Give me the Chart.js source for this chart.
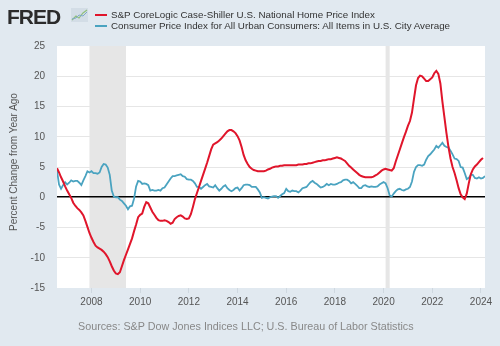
<!DOCTYPE html>
<html>
<head>
<meta charset="utf-8">
<script src="https://cdn.jsdelivr.net/npm/chart.js@4.4.1/dist/chart.umd.min.js"></script>
<style>
  html, body { margin: 0; padding: 0; background: #e1e9f0; }
  #wrap { position: relative; width: 500px; height: 346px; overflow: hidden; font-family: "Liberation Sans", Arial, sans-serif; }
  #chart { position: absolute; left: 0; top: 0; }
  .logo { position: absolute; left: 7px; top: 6px; font-size: 21px; line-height: 21px; font-weight: bold; letter-spacing: -1px; color: #2b2b2b; }
  .icon { position: absolute; left: 71px; top: 8px; }
  .swatch { position: absolute; left: 95px; width: 12px; height: 2px; }
  .leg { position: absolute; left: 111px; font-size: 9.8px; line-height: 12px; color: #333; white-space: nowrap; }
  .ytitle { position: absolute; left: -86px; top: 156px; width: 200px; text-align: center; font-size: 10px; line-height: 12px; color: #555; transform: rotate(-90deg); }
  .source { position: absolute; left: 78px; top: 320px; font-size: 10.75px; line-height: 13px; color: #888; white-space: nowrap; }
</style>
</head>
<body>
<div id="wrap">
  <canvas id="chart" width="500" height="346"></canvas>
  <div class="logo">FRED</div>
  <svg class="icon" width="17" height="14" viewBox="0 0 17 14">
    <rect x="0" y="0" width="17" height="14" fill="#d3dde6"/>
    <polyline points="1,12 5,8 8,10 12,5 16,2" fill="none" stroke="#8fbf7a" stroke-width="1.2"/>
    <polyline points="1,11 5,10 8,7 12,8 16,4" fill="none" stroke="#7fa9c9" stroke-width="1"/>
  </svg>
  <div class="swatch" style="top:14px;background:#e0152b"></div>
  <div class="leg" style="top:9px">S&amp;P CoreLogic Case-Shiller U.S. National Home Price Index</div>
  <div class="swatch" style="top:25px;background:#4aa3c0"></div>
  <div class="leg" style="top:20px">Consumer Price Index for All Urban Consumers: All Items in U.S. City Average</div>
  <div class="ytitle">Percent Change from Year Ago</div>
  <div class="source">Sources: S&amp;P Dow Jones Indices LLC; U.S. Bureau of Labor Statistics</div>
</div>
<script>
// monthly series, first value = Aug 2006
const startYear = 2006;
const startMonth = 8;

// S&P CoreLogic Case-Shiller national, % change from year ago (Aug 2006 - Feb 2024)
const homePrice = [
  4.8, 4.1, 3.3, 2.6, 1.8,
  1.1, 0.5, -0.1, -0.9, -1.4, -1.8, -2.1, -2.5, -3.0, -3.9, -4.9, -5.9,
  -6.7, -7.4, -8.0, -8.3, -8.5, -8.7, -9.0, -9.4, -9.9, -10.6, -11.4, -12.1,
  -12.6, -12.7, -12.4, -11.4, -10.4, -9.5, -8.6, -7.7, -6.8, -5.6, -4.5, -3.3,
  -2.9, -2.7, -1.6, -0.8, -1.0, -1.7, -2.4, -2.9, -3.4, -3.8, -3.9, -3.9,
  -3.8, -3.9, -4.1, -4.4, -4.2, -3.6, -3.3, -3.1, -3.0, -3.2, -3.5, -3.6,
  -3.5, -2.8, -1.6, -0.3, 0.7, 1.7, 2.7, 3.7, 4.7, 5.7, 6.8, 7.9,
  8.7, 8.9, 9.1, 9.4, 9.7, 10.1, 10.5, 10.9, 11.1, 11.1, 10.9, 10.6,
  10.1, 9.4, 8.3, 7.0, 6.1, 5.5, 5.0, 4.7, 4.5, 4.4, 4.3, 4.3,
  4.3, 4.3, 4.4, 4.6, 4.7, 4.9, 5.0, 5.1, 5.1, 5.2, 5.2, 5.3,
  5.3, 5.3, 5.3, 5.3, 5.3, 5.3, 5.4, 5.4, 5.4, 5.5, 5.5, 5.6,
  5.6, 5.7, 5.8, 5.9, 6.0, 6.0, 6.1, 6.1, 6.2, 6.3, 6.3, 6.4,
  6.5, 6.6, 6.5, 6.4, 6.2, 6.0, 5.6, 5.2, 4.9, 4.6, 4.3, 4.0,
  3.7, 3.5, 3.4, 3.3, 3.3, 3.3, 3.3, 3.4, 3.6, 3.8, 4.1, 4.4,
  4.6, 4.7, 4.6, 4.5, 4.4, 4.8, 5.9, 6.9, 7.9, 8.9, 9.9, 10.8,
  11.8, 12.6, 14.0, 16.3, 18.5, 19.7, 20.1, 20.0, 19.6, 19.2, 19.2, 19.5,
  19.8, 20.5, 20.9, 20.4, 18.8, 15.8, 13.2, 10.6, 8.3, 6.4, 5.0, 4.0,
  2.8, 1.5, 0.5, 0.0, -0.3, 0.6, 2.3, 3.8, 4.6, 5.1, 5.4, 5.8,
  6.2, 6.5
];

// CPI-U all items, % change from year ago (Aug 2006 - Mar 2024)
const cpi = [
  4.4, 2.1, 1.4, 2.0, 2.5,
  2.1, 2.4, 2.8, 2.6, 2.7, 2.7, 2.4, 2.0, 2.8, 3.5, 4.3, 4.1,
  4.3, 4.0, 4.0, 3.9, 4.1, 5.0, 5.5, 5.4, 4.9, 3.7, 1.1, 0.1,
  0.0, 0.0, -0.4, -0.6, -1.0, -1.4, -2.0, -1.5, -1.4, -0.2, 1.8, 2.7,
  2.6, 2.2, 2.3, 2.2, 2.0, 1.1, 1.2, 1.1, 1.1, 1.2, 1.1, 1.5,
  1.6, 2.1, 2.6, 3.1, 3.5, 3.5, 3.6, 3.7, 3.8, 3.5, 3.4, 3.0,
  2.9, 2.9, 2.7, 2.3, 1.7, 1.7, 1.4, 1.7, 2.0, 2.2, 1.8, 1.7,
  1.6, 2.0, 1.5, 1.1, 1.4, 1.8, 2.0, 1.5, 1.2, 1.0, 1.2, 1.5,
  1.6, 1.1, 1.5, 2.0, 2.1, 2.1, 2.0, 1.7, 1.7, 1.7, 1.3, 0.8,
  -0.1, 0.0, -0.1, -0.2, 0.0, 0.1, 0.2, 0.2, -0.1, 0.2, 0.5, 0.7,
  1.4, 1.0, 0.9, 1.1, 1.0, 1.0, 0.8, 1.1, 1.5, 1.6, 1.7, 2.1,
  2.5, 2.7, 2.4, 2.2, 1.9, 1.6, 1.7, 1.9, 2.2, 2.0, 2.2, 2.1,
  2.1, 2.2, 2.4, 2.5, 2.8, 2.9, 2.9, 2.7, 2.3, 2.5, 2.2, 1.9,
  1.5, 1.5, 1.9, 2.0, 1.8, 1.7, 1.8, 1.7, 1.7, 1.8, 2.1, 2.3,
  2.5, 2.3, 1.5, 0.3, 0.1, 0.6, 1.0, 1.3, 1.4, 1.2, 1.1, 1.3,
  1.4, 1.7, 2.6, 4.2, 5.0, 5.3, 5.3, 5.2, 5.4, 6.2, 6.8, 7.1,
  7.5, 7.9, 8.5, 8.2, 8.6, 9.0, 8.5, 8.3, 8.2, 7.7, 7.1, 6.4,
  6.3, 6.0, 5.0, 4.9, 4.0, 3.0, 3.2, 3.7, 3.7, 3.2, 3.1, 3.3,
  3.1, 3.2, 3.5
];

const yearTicks = [2008, 2010, 2012, 2014, 2016, 2018, 2020, 2022, 2024];
// recessions: Dec 2007 - Jun 2009, Feb 2020 - Apr 2020
const recessions = [[2007 + 11 / 12, 2009 + 5 / 12], [2020 + 1 / 12, 2020 + 3 / 12]];

function toPoints(values) {
  return values.map((v, i) => ({ x: startYear + (startMonth - 1 + i) / 12, y: v }));
}

// white plot area + grey recession bars
const backdrop = {
  id: 'backdrop',
  beforeDraw(chart) {
    const { ctx, chartArea: a, scales: { x } } = chart;
    ctx.save();
    ctx.fillStyle = '#ffffff';
    ctx.fillRect(a.left, a.top, a.right - a.left, a.bottom - a.top);
    ctx.fillStyle = '#e6e6e6';
    recessions.forEach(([s, e]) => {
      const x0 = x.getPixelForValue(s);
      const x1 = x.getPixelForValue(e);
      ctx.fillRect(x0, a.top, x1 - x0, a.bottom - a.top);
    });
    ctx.restore();
  }
};

new Chart(document.getElementById('chart'), {
  type: 'line',
  data: {
    datasets: [
      {
        label: 'S&P CoreLogic Case-Shiller U.S. National Home Price Index',
        data: toPoints(homePrice),
        borderColor: '#e0152b',
        borderWidth: 2,
        pointRadius: 0,
        tension: 0,
      },
      {
        label: 'Consumer Price Index for All Urban Consumers: All Items in U.S. City Average',
        data: toPoints(cpi),
        borderColor: '#4aa3c0',
        borderWidth: 1.8,
        pointRadius: 0,
        tension: 0,
      },
    ],
  },
  options: {
    responsive: false,
    animation: false,
    layout: { padding: { left: 0, right: 15, top: 46, bottom: 0 } },
    plugins: { legend: { display: false }, tooltip: { enabled: false } },
    scales: {
      x: {
        type: 'linear',
        min: startYear + (startMonth - 1) / 12,
        max: 2024 + 2 / 12,
        afterBuildTicks: s => { s.ticks = yearTicks.map(v => ({ value: v })); },
        afterFit: s => { s.height = 58; },
        ticks: {
          callback: v => String(v),
          autoSkip: false,
          maxRotation: 0,
          padding: 3,
          color: '#555',
          font: { family: '"Liberation Sans", Arial, sans-serif', size: 10 },
        },
        grid: { drawOnChartArea: false, drawTicks: true, tickLength: 5, color: '#cfd8e0' },
        border: { display: false },
      },
      y: {
        min: -15,
        max: 25,
        afterFit: s => { s.width = 57; },
        ticks: {
          stepSize: 5,
          padding: 12,
          color: '#555',
          font: { family: '"Liberation Sans", Arial, sans-serif', size: 10 },
        },
        grid: {
          drawTicks: false,
          color: c => (c.tick.value === 0 ? '#000000' : (c.tick.value === -15 || c.tick.value === 25) ? 'rgba(0,0,0,0)' : '#e6e6e6'),
          lineWidth: c => (c.tick.value === 0 ? 1.6 : 1),
        },
        border: { display: false },
      },
    },
  },
  plugins: [backdrop],
});
</script>
</body>
</html>
